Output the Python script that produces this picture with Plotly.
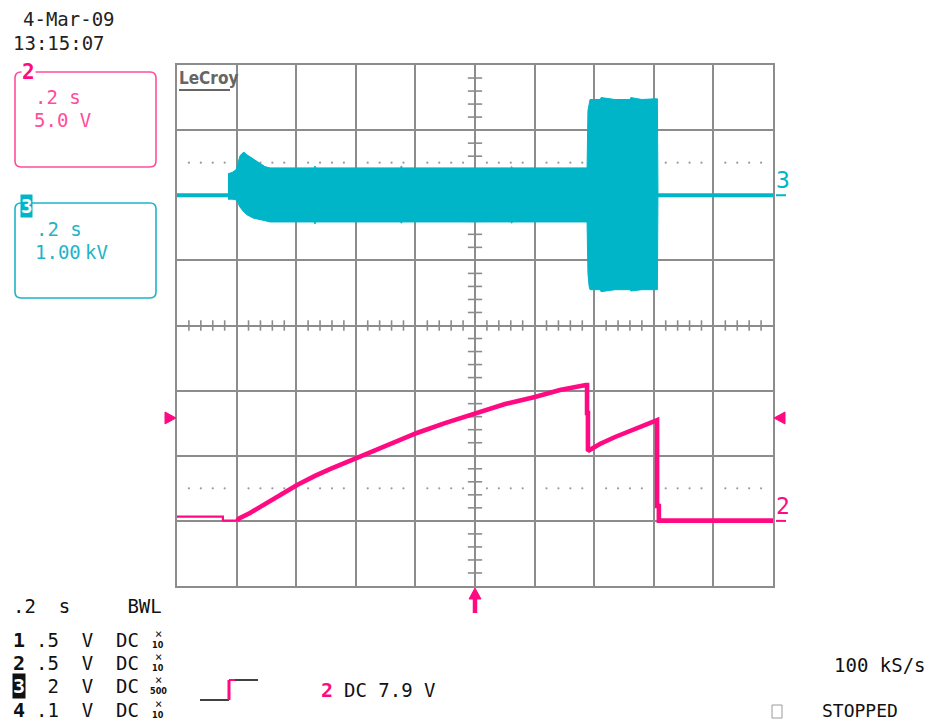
import plotly.graph_objects as go

# ---------------------------------------------------------------
# Acquisition data (time in s, 0.2 s/div, trigger at t = 0)
# ---------------------------------------------------------------
# Channel 2: 5.0 V/div, ground reference 3 div below centre
CH2_SCALE = 5.0
CH2_OFFSET_DIV = -3.0
CH2_PRE_T = [-1.000, -0.846, -0.846, -0.799]
CH2_PRE_V = [0.33, 0.33, 0.02, 0.02]
CH2_T = [-0.799, -0.790, -0.755, -0.705, -0.654, -0.597, -0.537, -0.487,
         -0.396, -0.295, -0.195, -0.101, 0.000, 0.101, 0.201, 0.285,
         0.372, 0.376, 0.376, 0.379, 0.379, 0.419, 0.470, 0.520, 0.570,
         0.607, 0.611, 0.611, 0.617, 0.617, 1.000]
CH2_V = [0.02, 0.20, 0.61, 1.30, 2.06, 2.76, 3.45, 3.98,
         4.83, 5.82, 6.75, 7.51, 8.28, 8.97, 9.51, 10.05,
         10.43, 10.43, 8.28, 8.28, 5.36, 5.90, 6.44, 6.90, 7.36,
         7.74, 7.74, 1.14, 1.14, 0.02, 0.02]
CH2_TRIG_LEVEL = 7.9

# Channel 3: 1.00 kV/div, ground reference 2 div above centre
CH3_OFFSET_DIV = 2.0
CH3_BASE_PRE_T = [-1.000, -0.829]
CH3_BASE_PRE_KV = [0.0, 0.0]
CH3_BASE_POST_T = [0.614, 1.000]
CH3_BASE_POST_KV = [0.0, 0.0]
# envelope of the oscillation (upper / lower peaks)
CH3_ENV_T = [-0.829, -0.815, -0.802, -0.795, -0.789, -0.782, -0.775, -0.765,
             -0.755, -0.745, -0.735, -0.721, -0.705, -0.688, -0.621, -0.540,
             -0.537, -0.534, -0.400, -0.250, -0.247, -0.244, -0.050, 0.120,
             0.123, 0.126, 0.300, 0.376, 0.379, 0.383, 0.386, 0.420, 0.423,
             0.470, 0.520, 0.523, 0.560, 0.600, 0.612, 0.614]
CH3_UP_KV = [0.33, 0.35, 0.39, 0.50, 0.60, 0.64, 0.66, 0.62,
             0.59, 0.56, 0.54, 0.50, 0.44, 0.42, 0.42, 0.42,
             0.45, 0.42, 0.42, 0.42, 0.45, 0.42, 0.42, 0.42,
             0.44, 0.42, 0.42, 0.42, 1.30, 1.42, 1.47, 1.47, 1.50,
             1.47, 1.47, 1.50, 1.47, 1.48, 1.48, 0.03]
CH3_LO_KV = [-0.06, -0.06, -0.07, -0.12, -0.18, -0.22, -0.26, -0.30,
             -0.33, -0.35, -0.36, -0.38, -0.39, -0.41, -0.41, -0.41,
             -0.44, -0.41, -0.41, -0.41, -0.43, -0.41, -0.41, -0.41,
             -0.43, -0.41, -0.41, -0.41, -1.20, -1.40, -1.45, -1.45, -1.48,
             -1.45, -1.45, -1.47, -1.45, -1.45, -1.45, -0.03]

# Screen geometry
N_HDIV, N_VDIV = 10, 8
T_PER_DIV = 0.2
W, H = 929, 721
PL, PR, PT, PB = 177, 773, 65, 586

GRID = "#8c8c8c"
CYAN = "#00b5c8"
MAGENTA = "#ff0a82"
PINK_TXT = "#ff4d9a"
CYAN_TXT = "#1eb4c8"
MONO = "DejaVu Sans Mono, Liberation Mono, monospace"

t_min, t_max = -N_HDIV / 2 * T_PER_DIV, N_HDIV / 2 * T_PER_DIV


def ch2_div(v):
    return [x / CH2_SCALE + CH2_OFFSET_DIV for x in v]


def ch3_div(kv):
    return [x + CH3_OFFSET_DIV for x in kv]


def px(x):
    return (x - PL) / (PR - PL)


def py(y):
    return (PB - y) / (PB - PT)


def div_to_py(d):
    # vertical screen division -> paper fraction
    return (d + N_VDIV / 2) / N_VDIV


def t_to_px(t):
    # time -> paper fraction
    return (t - t_min) / (t_max - t_min)


fig = go.Figure()

# dotted reference rows and centre-axis tick marks
sub = [k for k in range(1, N_HDIV * 5) if k % 5]
dot_t = [t_min + k * T_PER_DIV / 5 for k in sub]
for lvl in (2.5, -2.5):
    fig.add_trace(go.Scatter(x=dot_t, y=[lvl] * len(dot_t), mode="markers",
                             marker=dict(size=2.2, color="#9a9a9a"),
                             hoverinfo="skip"))
tx, ty = [], []
for t in dot_t:
    tx += [t, t, None]
    ty += [-0.08, 0.08, None]
for k in range(1, N_VDIV * 5):
    if k % 5:
        d = -N_VDIV / 2 + k / 5
        tx += [-0.024, 0.024, None]
        ty += [d, d, None]
fig.add_trace(go.Scatter(x=tx, y=ty, mode="lines",
                         line=dict(color=GRID, width=1.6), hoverinfo="skip"))

# channel 3 trace
env_x = CH3_ENV_T + CH3_ENV_T[::-1]
env_y = ch3_div(CH3_UP_KV) + ch3_div(CH3_LO_KV)[::-1]
fig.add_trace(go.Scatter(x=env_x, y=env_y, mode="lines", fill="toself",
                         fillcolor=CYAN, line=dict(color=CYAN, width=1),
                         hoverinfo="skip"))
for bt, bv in ((CH3_BASE_PRE_T, CH3_BASE_PRE_KV),
               (CH3_BASE_POST_T, CH3_BASE_POST_KV)):
    fig.add_trace(go.Scatter(x=bt, y=ch3_div(bv), mode="lines",
                             line=dict(color=CYAN, width=4), hoverinfo="skip"))

# channel 2 trace
fig.add_trace(go.Scatter(x=CH2_PRE_T, y=ch2_div(CH2_PRE_V), mode="lines",
                         line=dict(color=MAGENTA, width=2.2), hoverinfo="skip"))
fig.add_trace(go.Scatter(x=CH2_T, y=ch2_div(CH2_V), mode="lines",
                         line=dict(color=MAGENTA, width=4.6), hoverinfo="skip"))

fig.update_xaxes(range=[t_min, t_max], dtick=T_PER_DIV, tick0=0,
                 showgrid=True, gridcolor=GRID, gridwidth=2,
                 showline=True, mirror=True, linecolor=GRID, linewidth=2,
                 zeroline=False, showticklabels=False, ticks="",
                 fixedrange=True)
fig.update_yaxes(range=[-N_VDIV / 2, N_VDIV / 2], dtick=1, tick0=0,
                 showgrid=True, gridcolor=GRID, gridwidth=2,
                 showline=True, mirror=True, linecolor=GRID, linewidth=2,
                 zeroline=False, showticklabels=False, ticks="",
                 fixedrange=True)

shapes = []
annotations = []


def label(x, y, text, color="#111111", size=19, family=MONO, anchor="left",
          bold=False, bg=None, yanchor="middle"):
    annotations.append(dict(
        xref="paper", yref="paper", x=px(x), y=py(y),
        text=(f"<b>{text}</b>" if bold else text),
        showarrow=False, xanchor=anchor, yanchor=yanchor,
        font=dict(family=family, size=size, color=color),
        bgcolor=bg, borderpad=0))


def seg(x0, y0, x1, y1, color, width):
    shapes.append(dict(type="line", xref="paper", yref="paper",
                       x0=px(x0), y0=py(y0), x1=px(x1), y1=py(y1),
                       line=dict(color=color, width=width)))


def poly(points, color):
    # filled polygon given in screen pixels
    path = "M" + " L".join(f"{px(a)},{py(b)}" for a, b in points) + " Z"
    shapes.append(dict(type="path", xref="paper", yref="paper", path=path,
                       fillcolor=color, line=dict(color=color, width=1)))


def rounded_box(x0, y0, x1, y1, r, color):
    rx = r / (PR - PL)
    ry = r / (PB - PT)
    a0, a1 = px(x0), px(x1)
    b0, b1 = py(y1), py(y0)
    path = (f"M{a0 + rx},{b1} L{a1 - rx},{b1} Q{a1},{b1} {a1},{b1 - ry} "
            f"L{a1},{b0 + ry} Q{a1},{b0} {a1 - rx},{b0} L{a0 + rx},{b0} "
            f"Q{a0},{b0} {a0},{b0 + ry} L{a0},{b1 - ry} Q{a0},{b1} {a0 + rx},{b1} Z")
    shapes.append(dict(type="path", xref="paper", yref="paper", path=path,
                       line=dict(color=color, width=1.6)))


# trigger level markers on both screen edges
trig_y = PB - div_to_py(CH2_TRIG_LEVEL / CH2_SCALE + CH2_OFFSET_DIV) * (PB - PT)
poly([(165, trig_y - 6), (176, trig_y), (165, trig_y + 6)], MAGENTA)
poly([(785, trig_y - 6), (774, trig_y), (785, trig_y + 6)], MAGENTA)

# ground reference dashes at the right edge
for gd, col in ((CH3_OFFSET_DIV, CYAN), (CH2_OFFSET_DIV, MAGENTA)):
    gy = PB - div_to_py(gd) * (PB - PT)
    seg(776, gy, 786, gy, col, 2)

# trigger position arrow below the grid
trig_x = PL + t_to_px(0.0) * (PR - PL)
poly([(trig_x - 6, 599), (trig_x, 588), (trig_x + 6, 599)], MAGENTA)
seg(trig_x, 596, trig_x, 613, MAGENTA, 4.5)

# date / time stamp
label(22, 19, "4-Mar-09", color="#222222")
label(12, 43, "13:15:07", color="#222222")

# channel boxes
rounded_box(15, 72, 156, 167, 6, PINK_TXT)
label(21, 72, "2", color=MAGENTA, size=21, bold=True, bg="white")
label(34, 97, ".2\u00a0s", color=PINK_TXT)
label(33, 120, "5.0\u00a0V", color=PINK_TXT)

rounded_box(15, 203, 156, 298, 6, CYAN_TXT)
label(20, 206, "3", color="white", size=19, bold=True, bg=CYAN)
label(35, 229, ".2\u00a0s", color=CYAN_TXT)
label(34, 252, "1.00", color=CYAN_TXT)
label(84, 252, "kV", color=CYAN_TXT)

# brand mark
label(178, 78, "LeCroy", color="#666666", size=17,
      family="Liberation Sans Narrow, DejaVu Sans Condensed, Arial Narrow, sans-serif",
      bold=True)
seg(179, 90, 230, 90, "#666666", 2)

# channel numbers at the right edge
label(775, 180, "3", color=CYAN, size=23)
label(775, 506, "2", color=MAGENTA, size=23)

# timebase / channel setup readout
label(12, 606, ".2\u00a0\u00a0s\u00a0\u00a0\u00a0\u00a0\u00a0BWL", color="#111111")
rows = [("1", ".5", "10", 640), ("2", ".5", "10", 663),
        ("3", "\u00a02", "500", 686), ("4", ".1", "10", 710)]
for ch, vdiv, atten, yy in rows:
    if ch == "3":
        label(12, yy, ch, color="white", size=20, bold=True, bg="#111111")
    else:
        label(12, yy, ch, color="#111111", size=20, bold=True)
    label(35, yy, f"{vdiv}\u00a0\u00a0V\u00a0\u00a0DC", color="#111111")
    label(158, yy - 6, "\u00d7", color="#111111", size=12, anchor="center")
    label(158, yy + 5, atten, color="#111111", size=9, anchor="center", bold=True,
          family="DejaVu Sans Condensed, DejaVu Sans, sans-serif")

# trigger slope symbol and setting
seg(200, 700, 229, 700, "#111111", 1.6)
seg(229, 700, 229, 680, MAGENTA, 3)
seg(229, 680, 235, 680, MAGENTA, 2)
seg(235, 680, 258, 680, "#111111", 1.6)
label(320, 690, "2", color=MAGENTA, size=20, bold=True)
label(343, 690, "DC\u00a07.9\u00a0V", color="#111111")

label(833, 665, "100\u00a0kS/s", color="#111111")
shapes.append(dict(type="rect", xref="paper", yref="paper",
                   x0=px(772), x1=px(782), y0=py(718), y1=py(705),
                   line=dict(color="#9a9a9a", width=1)))
label(821, 710, "STOPPED", color="#111111", size=18)

fig.update_layout(width=W, height=H, showlegend=False,
                  paper_bgcolor="white", plot_bgcolor="white",
                  margin=dict(l=PL, r=W - PR, t=PT, b=H - PB),
                  shapes=shapes, annotations=annotations)

fig.write_html("out.html", config={"displayModeBar": False})
